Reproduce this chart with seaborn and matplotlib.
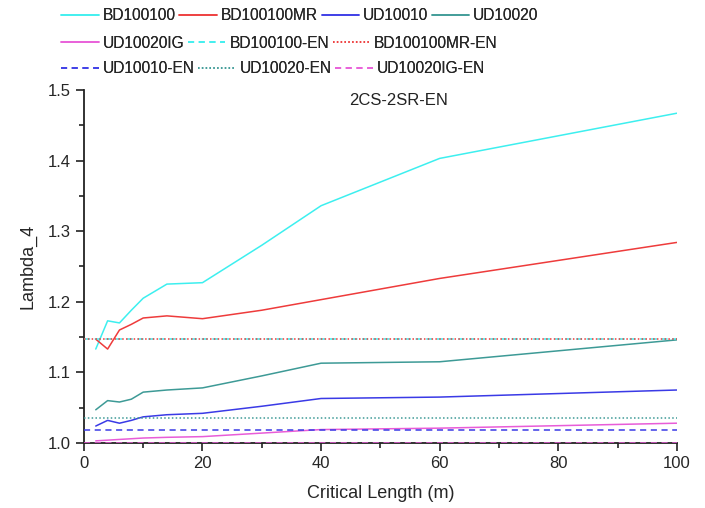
import matplotlib
matplotlib.use('Agg')
import matplotlib.pyplot as plt
from matplotlib.ticker import MultipleLocator
import seaborn as sns
import pandas as pd

# critical length (m)
length = [2, 4, 6, 8, 10, 14, 20, 30, 40, 60, 100]

bd100100 = [1.133, 1.173, 1.170, 1.188, 1.205, 1.225, 1.227, 1.280, 1.336, 1.403, 1.467]
bd100100mr = [1.147, 1.133, 1.160, 1.168, 1.177, 1.180, 1.176, 1.188, 1.203, 1.233, 1.284]
ud10010 = [1.024, 1.032, 1.028, 1.032, 1.037, 1.040, 1.042, 1.052, 1.063, 1.065, 1.075]
ud10020 = [1.047, 1.060, 1.058, 1.062, 1.072, 1.075, 1.078, 1.095, 1.113, 1.115, 1.146]
ud10020ig = [1.003, 1.004, 1.005, 1.006, 1.007, 1.008, 1.009, 1.014, 1.019, 1.021, 1.028]

# eigenvalue (EN) reference levels
en_length = [0, 100]
en_values = {
    'BD100100-EN': 1.147,
    'BD100100MR-EN': 1.147,
    'UD10010-EN': 1.018,
    'UD10020-EN': 1.035,
    'UD10020IG-EN': 1.000,
}

colors = {
    'BD100100': '#3DEFEF',
    'BD100100MR': '#EE3B3B',
    'UD10010': '#3A3AE6',
    'UD10020': '#3D9A96',
    'UD10020IG': '#E85CD8',
}

sns.set_theme(style='ticks')
plt.rcParams['font.family'] = ['Liberation Sans', 'DejaVu Sans']

fig = plt.figure(figsize=(7.05, 5.08), dpi=100)
ax = fig.add_axes([0.119, 0.128, 0.841, 0.695])

curves = {
    'BD100100': bd100100,
    'BD100100MR': bd100100mr,
    'UD10010': ud10010,
    'UD10020': ud10020,
    'UD10020IG': ud10020ig,
}
for name, vals in curves.items():
    df = pd.DataFrame({'x': length, 'y': vals})
    sns.lineplot(data=df, x='x', y='y', ax=ax, color=colors[name], lw=1.1, label=name)

en_style = {
    'BD100100-EN': (colors['BD100100'], (0, (4, 3))),
    'BD100100MR-EN': (colors['BD100100MR'], (0, (1, 1.5))),
    'UD10010-EN': (colors['UD10010'], (0, (4, 3))),
    'UD10020-EN': (colors['UD10020'], (0, (1, 1.5))),
    'UD10020IG-EN': (colors['UD10020IG'], (0, (4, 3))),
}
for name, v in en_values.items():
    c, ls = en_style[name]
    df = pd.DataFrame({'x': en_length, 'y': [v, v]})
    sns.lineplot(data=df, x='x', y='y', ax=ax, color=c, lw=1.1, linestyle=ls, label=name,
                 zorder=3)

ax.set_xlim(0, 100)
ax.set_ylim(1.0, 1.5)
ax.xaxis.set_major_locator(MultipleLocator(20))
ax.xaxis.set_minor_locator(MultipleLocator(10))
ax.yaxis.set_major_locator(MultipleLocator(0.1))
ax.yaxis.set_minor_locator(MultipleLocator(0.05))
ax.yaxis.set_major_formatter(matplotlib.ticker.FormatStrFormatter('%.1f'))
ax.tick_params(which='major', length=6, width=1.2, labelsize=12, direction='out', color='#222222')
ax.tick_params(which='minor', length=3.5, width=1.2, direction='out', color='#222222')
for s in ['top', 'right']:
    ax.spines[s].set_visible(False)
for s in ['left', 'bottom']:
    ax.spines[s].set_linewidth(1.3)
    ax.spines[s].set_color('#222222')

ax.set_xlabel('Critical Length (m)', fontsize=13, labelpad=10)
ax.set_ylabel('Lambda_4', fontsize=13, labelpad=8)
ax.text(53, 1.485, '2CS-2SR-EN', fontsize=12, ha='center', va='center', color='#222222')

handles, labels = ax.get_legend_handles_labels()
ax.get_legend().remove()
rows = [(0, 4, 0.984), (4, 7, 0.930), (7, 10, 0.880)]
for a, b, yy in rows:
    leg = fig.legend(handles[a:b], labels[a:b], loc='upper left', bbox_to_anchor=(0.087, yy),
                     ncol=b - a, frameon=False, fontsize=11.2, handlelength=2.4,
                     handletextpad=0.25, columnspacing=0.25, borderaxespad=0, borderpad=0)
    fig.add_artist(leg)

fig.savefig('out.png', dpi=100)
